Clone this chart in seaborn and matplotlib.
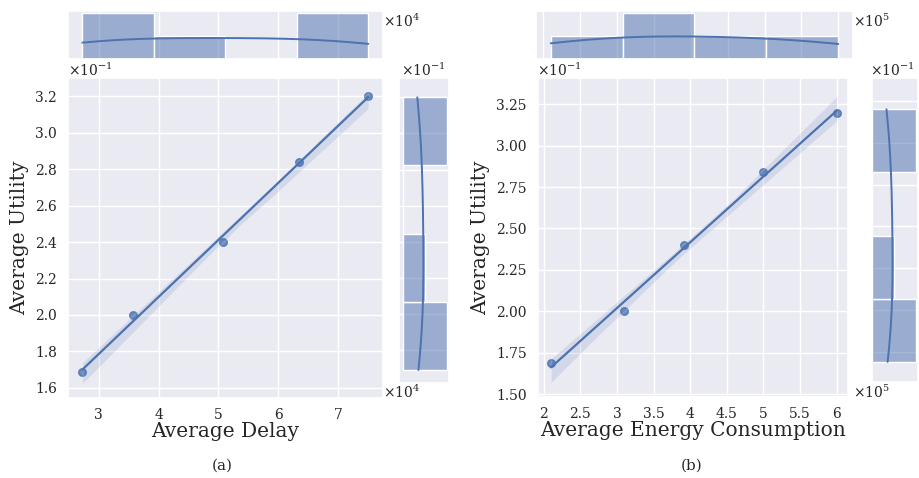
import numpy as np
import pandas as pd
import seaborn as sns
import matplotlib.pyplot as plt
from matplotlib.ticker import FixedLocator, FuncFormatter

# ---- data (display units) ----
utility = [1.69, 2.00, 2.40, 2.84, 3.20]      # Average Utility (x10^-1)
delay = [2.73, 3.58, 5.08, 6.34, 7.50]        # Average Delay (x10^4)
energy = [2.10, 3.10, 3.92, 5.00, 6.00]       # Average Energy Consumption (x10^5)

delay_ticks = [3, 4, 5, 6, 7]
energy_ticks = [2, 2.5, 3, 3.5, 4, 4.5, 5, 5.5, 6]
util_ticks_a = [1.6, 1.8, 2.0, 2.2, 2.4, 2.6, 2.8, 3.0, 3.2]
util_ticks_b = [1.50, 1.75, 2.00, 2.25, 2.50, 2.75, 3.00, 3.25]

sns.set_theme(style="darkgrid")
plt.rcParams['font.family'] = ['DejaVu Serif']
plt.rcParams['mathtext.fontset'] = 'dejavuserif'

W, H = 920, 478
fig = plt.figure(figsize=(W / 100, H / 100), dpi=100)


def box(x0, y0, x1, y1):
    return [x0 / W, 1 - y1 / H, (x1 - x0) / W, (y1 - y0) / H]


def panel(xv, yv, main_box, top_box, right_box, xlim, xlim_top, ylim, ylim_r,
          xticks, yticks, xfmt, yfmt, xlabel, ylabel, rmarg_xlim):
    df = pd.DataFrame({"x": xv, "y": yv})
    ax = fig.add_axes(box(*main_box))
    axt = fig.add_axes(box(*top_box))
    axr = fig.add_axes(box(*right_box))

    sns.regplot(data=df, x="x", y="y", ax=ax, color="C0", truncate=True,
                seed=0, scatter_kws=dict(s=30), line_kws=dict(lw=1.6))
    sns.histplot(data=df, x="x", ax=axt, bins=4, kde=True, color="C0",
                 line_kws=dict(lw=1.4))
    sns.histplot(data=df, y="y", ax=axr, bins=4, kde=True, color="C0",
                 line_kws=dict(lw=1.4))

    ax.set_xlim(*xlim)
    ax.set_ylim(*ylim)
    ax.xaxis.set_major_locator(FixedLocator(xticks))
    ax.yaxis.set_major_locator(FixedLocator(yticks))
    ax.xaxis.set_major_formatter(FuncFormatter(xfmt))
    ax.yaxis.set_major_formatter(FuncFormatter(yfmt))
    ax.tick_params(axis="x", labelsize=10, pad=7)
    ax.tick_params(axis="y", labelsize=10, pad=8)
    ax.set_xlabel(xlabel, fontsize=14.5, labelpad=0)
    ax.set_ylabel(ylabel, fontsize=14.5, labelpad=4)

    axt.set_xlim(*xlim_top)
    axt.set_ylim(0, 2.1)
    axt.xaxis.set_major_locator(FixedLocator(xticks))
    axt.set_xticklabels([])
    axt.set_yticks([])
    axt.set_xlabel("")
    axt.set_ylabel("")
    axt.yaxis.grid(False)

    axr.set_ylim(*ylim_r)
    axr.set_xlim(*rmarg_xlim)
    axr.yaxis.set_major_locator(FixedLocator(yticks))
    axr.set_yticklabels([])
    axr.set_xticks([])
    axr.set_xlabel("")
    axr.set_ylabel("")
    axr.xaxis.grid(False)
    for a in (ax, axt, axr):
        a.tick_params(length=0)
    return ax


fa = lambda v, p: f"{v:.1f}"
fg = lambda v, p: f"{v:g}"
f2 = lambda v, p: f"{v:.2f}"

panel(delay, utility,
      (68, 78, 383, 398), (68, 11, 383, 59), (399, 78, 449, 383),
      (2.49, 7.745), (2.49, 7.745), (1.545, 3.299), (1.618, 3.307),
      delay_ticks, util_ticks_a, fg, fa,
      "Average Delay", "Average Utility", (-0.17, 2.1))

panel(energy, utility,
      (538, 78, 848, 397), (536, 11, 853, 59), (872, 78, 918, 382),
      (1.923, 6.154), (1.90, 6.20), (1.482, 3.409), (1.57, 3.387),
      energy_ticks, util_ticks_b, fg, f2,
      "Average Energy Consumption", "Average Utility", (0, 2.1))


def t(x, y, s, **kw):
    fig.text(x / W, 1 - y / H, s, fontsize=10, va="center", **kw)


t(68, 70, r"$\times10^{-1}$")
t(401, 70, r"$\times10^{-1}$")
t(383, 21, r"$\times10^{4}$")
t(383, 392, r"$\times10^{4}$")
t(537, 70, r"$\times10^{-1}$")
t(870, 70, r"$\times10^{-1}$")
t(853, 21, r"$\times10^{5}$")
t(853, 392, r"$\times10^{5}$")

fig.text(222 / W, 1 - 466 / H, "(a)", fontsize=11, ha="center", va="center")
fig.text(692 / W, 1 - 466 / H, "(b)", fontsize=11, ha="center", va="center")

fig.savefig("out.png", dpi=100)
